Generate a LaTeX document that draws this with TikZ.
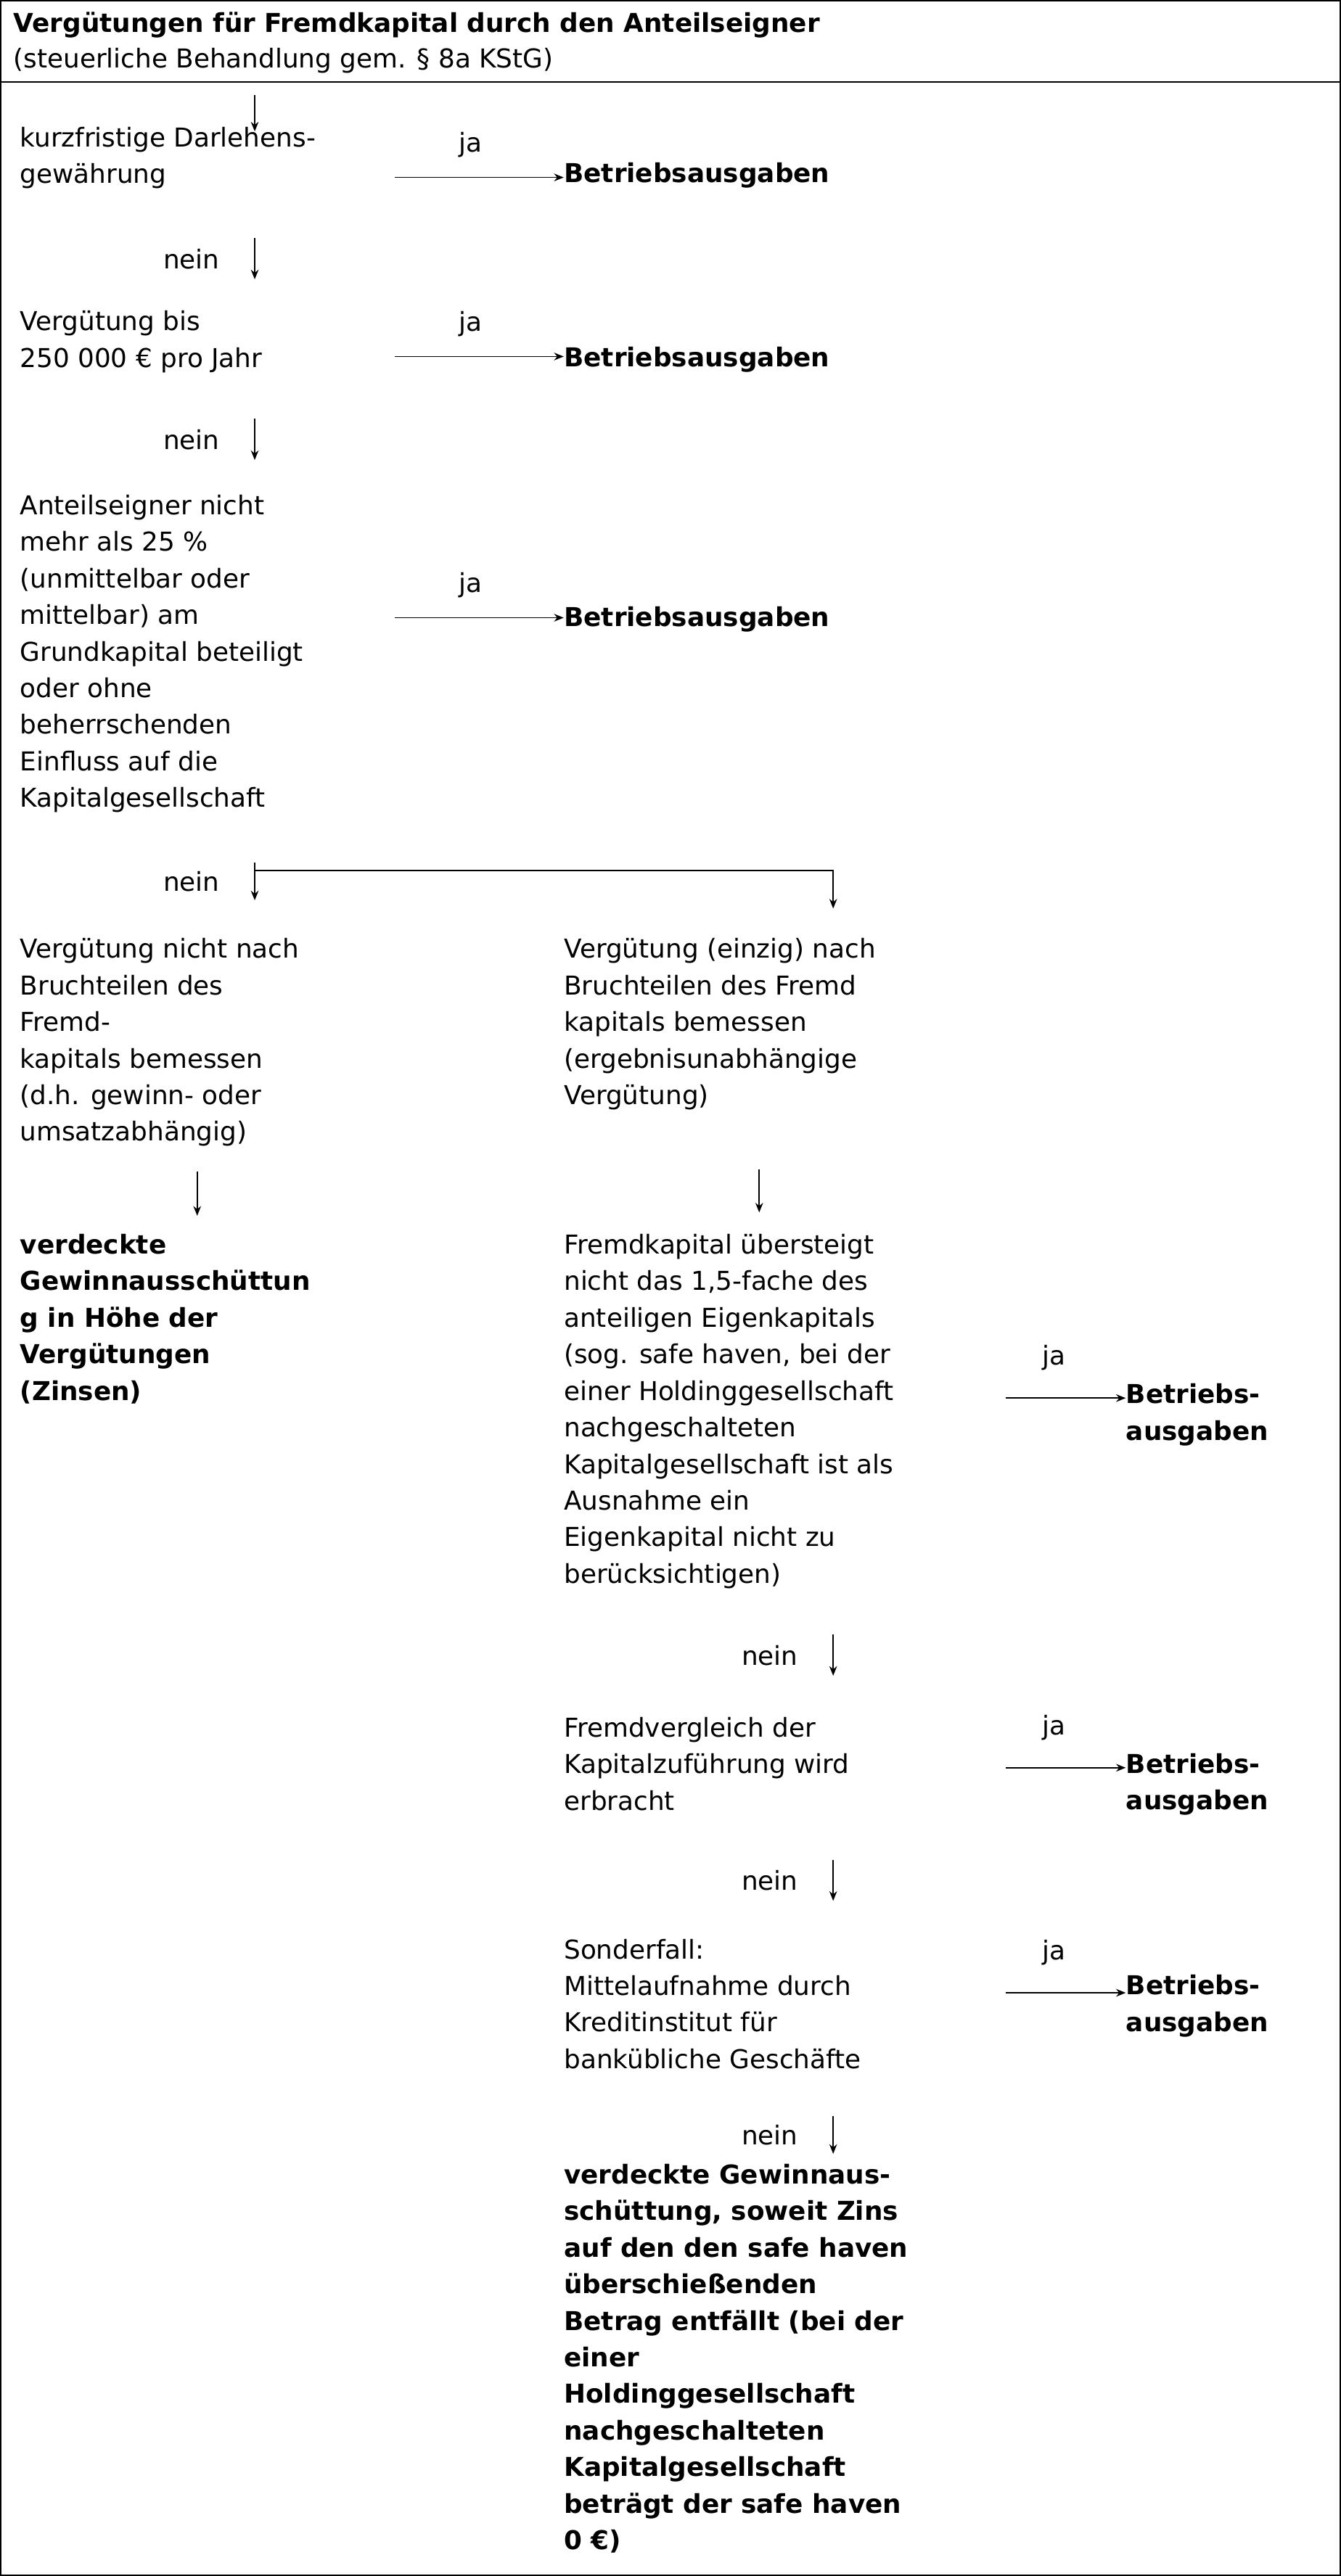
\documentclass[tikz,border=0pt]{standalone}
\usepackage{fontspec}
\setmainfont{DejaVu Sans}
\usetikzlibrary{positioning, arrows.meta}

\tikzset{
  txt/.style={anchor=north west, inner sep=0pt, align=left, font=\fontsize{13.5}{19}\selectfont},
  res/.style={txt, font=\fontsize{13.5}{19}\selectfont\bfseries},
  lbl/.style={inner sep=0pt, font=\fontsize{13.5}{19}\selectfont},
  flow/.style={-{Stealth[length=5pt,width=4pt]}, line width=0.6pt},
}

\begin{document}
\begin{tikzpicture}[x=0.03cm, y=-0.03cm]
        \useasboundingbox (0,0) rectangle (816,1568);
        %-----Frame-----
        \draw[line width=0.8pt] (0.5,0.5) rectangle (815.5,1567.5);
        \draw[line width=0.8pt] (0.5,50) -- (815.5,50);

        % Title
        \node[res] (title) at (8,7) {Vergütungen für Fremdkapital durch den Anteilseigner};
        \node[txt] (subtitle) at (8,29) {(steuerliche Behandlung gem. § 8a KStG)};

        %-----Left column-----
        \coordinate (start) at (155,58);
        \node[txt] (q1) at (12,77) {kurzfristige Darlehens-\\gewährung};
        \node[txt] (q2) at (12,189) {Vergütung bis\\250 000 € pro Jahr};
        \node[txt] (q3) at (12,301) {Anteilseigner nicht\\mehr als 25 \%\\(unmittelbar oder\\mittelbar) am\\Grundkapital beteiligt\\oder ohne\\beherrschenden\\Einfluss auf die\\Kapitalgesellschaft};
        \node[txt] (q4) at (12,571) {Vergütung nicht nach\\Bruchteilen des\\Fremd-\\kapitals bemessen\\(d.h. gewinn- oder\\umsatzabhängig)};
        \node[res] (vga1) at (12,751) {verdeckte\\Gewinnausschüttun\\g in Höhe der\\Vergütungen\\(Zinsen)};

        % Results of the left column
        \node[res] (ba1) at (343,99) {Betriebsausgaben};
        \node[res] (ba2) at (343,211) {Betriebsausgaben};
        \node[res] (ba3) at (343,369) {Betriebsausgaben};

        %-----Right column-----
        \node[txt] (q5) at (343,571) {Vergütung (einzig) nach\\Bruchteilen des Fremd\\kapitals bemessen\\(ergebnisunabhängige\\Vergütung)};
        \node[txt] (q6) at (343,751) {Fremdkapital übersteigt\\nicht das 1,5-fache des\\anteiligen Eigenkapitals\\(sog. safe haven, bei der\\einer Holdinggesellschaft\\nachgeschalteten\\Kapitalgesellschaft ist als\\Ausnahme ein\\Eigenkapital nicht zu\\berücksichtigen)};
        \node[txt] (q7) at (343,1045) {Fremdvergleich der\\Kapitalzuführung wird\\erbracht};
        \node[txt] (q8) at (343,1180) {Sonderfall:\\Mittelaufnahme durch\\Kreditinstitut für\\bankübliche Geschäfte};
        \node[res] (vga2) at (343,1317) {verdeckte Gewinnaus-\\schüttung, soweit Zins\\auf den den safe haven\\überschießenden\\Betrag entfällt (bei der\\einer\\Holdinggesellschaft\\nachgeschalteten\\Kapitalgesellschaft\\beträgt der safe haven\\0 €)};

        % Results of the right column
        \node[res] (ba4) at (685,842) {Betriebs-\\ausgaben};
        \node[res] (ba5) at (685,1067) {Betriebs-\\ausgaben};
        \node[res] (ba6) at (685,1202) {Betriebs-\\ausgaben};

        %-----Connectors-----
        \draw[flow] (start) -- (155,80);

        % ja branches
        \draw[flow] (240,108) -- (ba1.west |- 0,108) node[lbl, pos=0.45, above=10pt] {ja};
        \draw[flow] (240,217) -- (ba2.west |- 0,217) node[lbl, pos=0.45, above=10pt] {ja};
        \draw[flow] (240,376) -- (ba3.west |- 0,376) node[lbl, pos=0.45, above=10pt] {ja};
        \draw[flow] (612,851) -- (ba4.west |- 0,851) node[lbl, pos=0.4, above=14pt] {ja};
        \draw[flow] (612,1076) -- (ba5.west |- 0,1076) node[lbl, pos=0.4, above=14pt] {ja};
        \draw[flow] (612,1213) -- (ba6.west |- 0,1213) node[lbl, pos=0.4, above=14pt] {ja};

        % nein branches
        \draw[flow] (155,145) -- (155,170) node[lbl, midway, left=18pt] {nein};
        \draw[flow] (155,255) -- (155,280) node[lbl, midway, left=18pt] {nein};
        \draw[flow] (155,525) -- (155,548) node[lbl, midway, left=18pt] {nein};
        \draw[flow] (155,530) -- (507,530) -- (507,553);
        \draw[flow] (120,713) -- (120,740);
        \draw[flow] (462,712) -- (462,738);
        \draw[flow] (507,995) -- (507,1020) node[lbl, midway, left=18pt] {nein};
        \draw[flow] (507,1132) -- (507,1157) node[lbl, midway, left=18pt] {nein};
        \draw[flow] (507,1288) -- (507,1311) node[lbl, midway, left=18pt] {nein};
\end{tikzpicture}
\end{document}
